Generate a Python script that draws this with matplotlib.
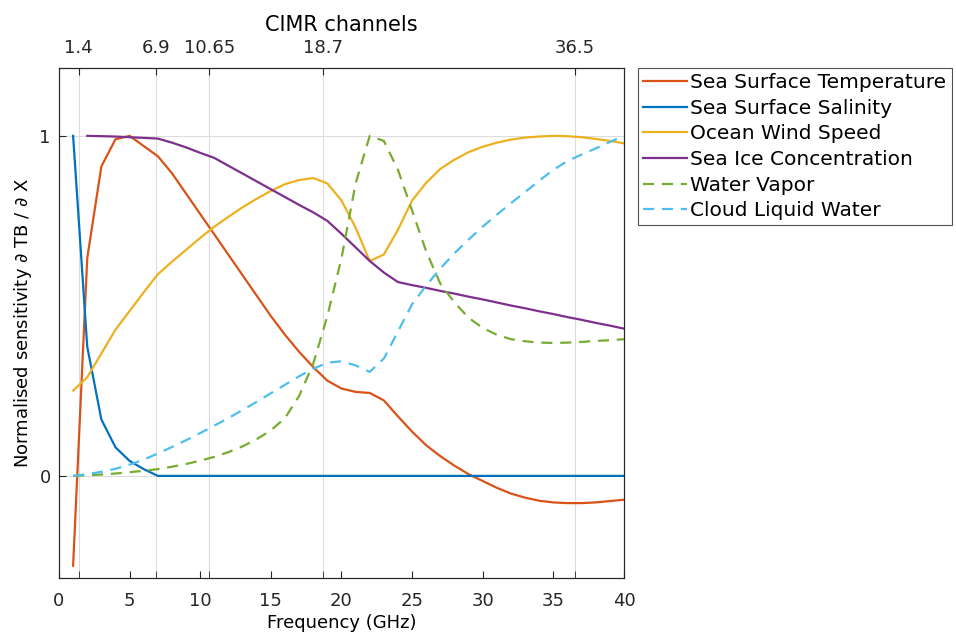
import numpy as np
import matplotlib
matplotlib.use("Agg")
import matplotlib.pyplot as plt

plt.rcParams.update({
    "font.family": "DejaVu Sans",
    "mathtext.fontset": "dejavusans",
    "axes.edgecolor": "#262626",
    "xtick.color": "#262626",
    "ytick.color": "#262626",
})

# frequency grid (GHz)
freq = np.arange(1, 41)

sst = [-0.264, 0.64, 0.91, 0.99, 1.0, 0.97, 0.94, 0.89, 0.83, 0.77,
       0.71, 0.65, 0.59, 0.53, 0.47, 0.415, 0.365, 0.32, 0.28, 0.257,
       0.247, 0.244, 0.222, 0.175, 0.13, 0.09, 0.058, 0.03, 0.005, -0.015,
       -0.035, -0.052, -0.064, -0.073, -0.078, -0.08, -0.08, -0.078, -0.074, -0.07]
sss = [1.0, 0.38, 0.166, 0.084, 0.044, 0.02] + [0.0] * 34
ows = [0.251, 0.29, 0.36, 0.43, 0.485, 0.54, 0.593, 0.63, 0.665, 0.70,
       0.733, 0.762, 0.79, 0.815, 0.838, 0.858, 0.87, 0.876, 0.86, 0.81,
       0.73, 0.632, 0.651, 0.724, 0.81, 0.862, 0.903, 0.93, 0.952, 0.968,
       0.98, 0.989, 0.995, 0.998, 1.0, 0.999, 0.996, 0.991, 0.985, 0.978]
sic = [np.nan, 1.0, 0.999, 0.998, 0.996, 0.994, 0.992, 0.98, 0.966, 0.95,
       0.935, 0.912, 0.889, 0.866, 0.843, 0.82, 0.797, 0.775, 0.75, 0.712,
       0.672, 0.632, 0.598, 0.57, 0.561, 0.553, 0.544, 0.536, 0.527, 0.519,
       0.51, 0.501, 0.493, 0.484, 0.476, 0.467, 0.459, 0.45, 0.442, 0.433]
wv = [0.0, 0.002, 0.004, 0.007, 0.011, 0.015, 0.02, 0.027, 0.035, 0.045,
      0.056, 0.07, 0.087, 0.108, 0.134, 0.17, 0.235, 0.33, 0.47, 0.64,
      0.86, 1.0, 0.985, 0.9, 0.78, 0.66, 0.565, 0.51, 0.465, 0.435,
      0.415, 0.402, 0.396, 0.392, 0.391, 0.392, 0.394, 0.397, 0.399, 0.402]
clw = [0.0, 0.005, 0.012, 0.021, 0.033, 0.048, 0.066, 0.085, 0.105, 0.126,
       0.148, 0.17, 0.194, 0.218, 0.243, 0.268, 0.293, 0.315, 0.333, 0.337,
       0.325, 0.306, 0.345, 0.425, 0.505, 0.56, 0.61, 0.655, 0.695, 0.733,
       0.768, 0.802, 0.835, 0.868, 0.9, 0.926, 0.945, 0.963, 0.982, 1.0]

channels = [1.4, 6.9, 10.65, 18.7, 36.5]
channel_labels = ["1.4", "6.9", "10.65", "18.7", "36.5"]

SERIES = [
    ("Sea Surface Temperature", sst, "#D95319", "-"),
    ("Sea Surface Salinity",    sss, "#0072BD", "-"),
    ("Ocean Wind Speed",        ows, "#EDB120", "-"),
    ("Sea Ice Concentration",   sic, "#7E2F8E", "-"),
    ("Water Vapor",             wv,  "#77AC30", "--"),
    ("Cloud Liquid Water",      clw, "#4DBEEE", "--"),
]

fig = plt.figure(figsize=(9.56, 6.4), dpi=100)
ax = fig.add_axes([0.0617, 0.097, 0.591, 0.797])

for label, vals, color, ls in SERIES:
    ax.plot(freq, vals, ls, color=color, linewidth=1.6, label=label,
            dashes=(5, 3.5) if ls == "--" else (None, None))

ax.set_xlim(0, 40)
ax.set_ylim(-0.3, 1.2)
ax.set_xticks(np.arange(0, 41, 5))
ax.set_xticks(channels, minor=True)
ax.set_yticks([0, 1])
ax.tick_params(axis="both", which="both", direction="in", labelsize=13, length=5)
ax.tick_params(axis="x", which="major", pad=10)
ax.tick_params(axis="y", which="major", pad=6)
ax.grid(axis="x", which="minor", color="#dcdcdc", linewidth=0.8)
ax.grid(axis="y", which="major", color="#dcdcdc", linewidth=0.8)
ax.set_axisbelow(True)
ax.set_xlabel("Frequency (GHz)", fontsize=13, labelpad=3)
ax.set_ylabel(r"Normalised sensitivity $\it{\partial}$ TB / $\it{\partial}$ X",
              fontsize=13, labelpad=4)

ax2 = ax.twiny()
ax2.set_xlim(ax.get_xlim())
ax2.set_xticks(channels)
ax2.set_xticklabels(channel_labels)
ax2.tick_params(axis="x", direction="in", labelsize=13, length=5, pad=7.5)
ax2.set_xlabel("CIMR channels", fontsize=15, labelpad=6)

leg = ax.legend(loc="upper left", bbox_to_anchor=(638 / 956, 1 - 68 / 640),
                bbox_transform=fig.transFigure, fontsize=14.5, frameon=True,
                fancybox=False, borderaxespad=0, handlelength=2.2,
                handletextpad=0.15, labelspacing=0.33, borderpad=0.25)
leg.get_frame().set_edgecolor("#262626")
leg.get_frame().set_linewidth(0.8)

fig.savefig("out.png", dpi=100)
